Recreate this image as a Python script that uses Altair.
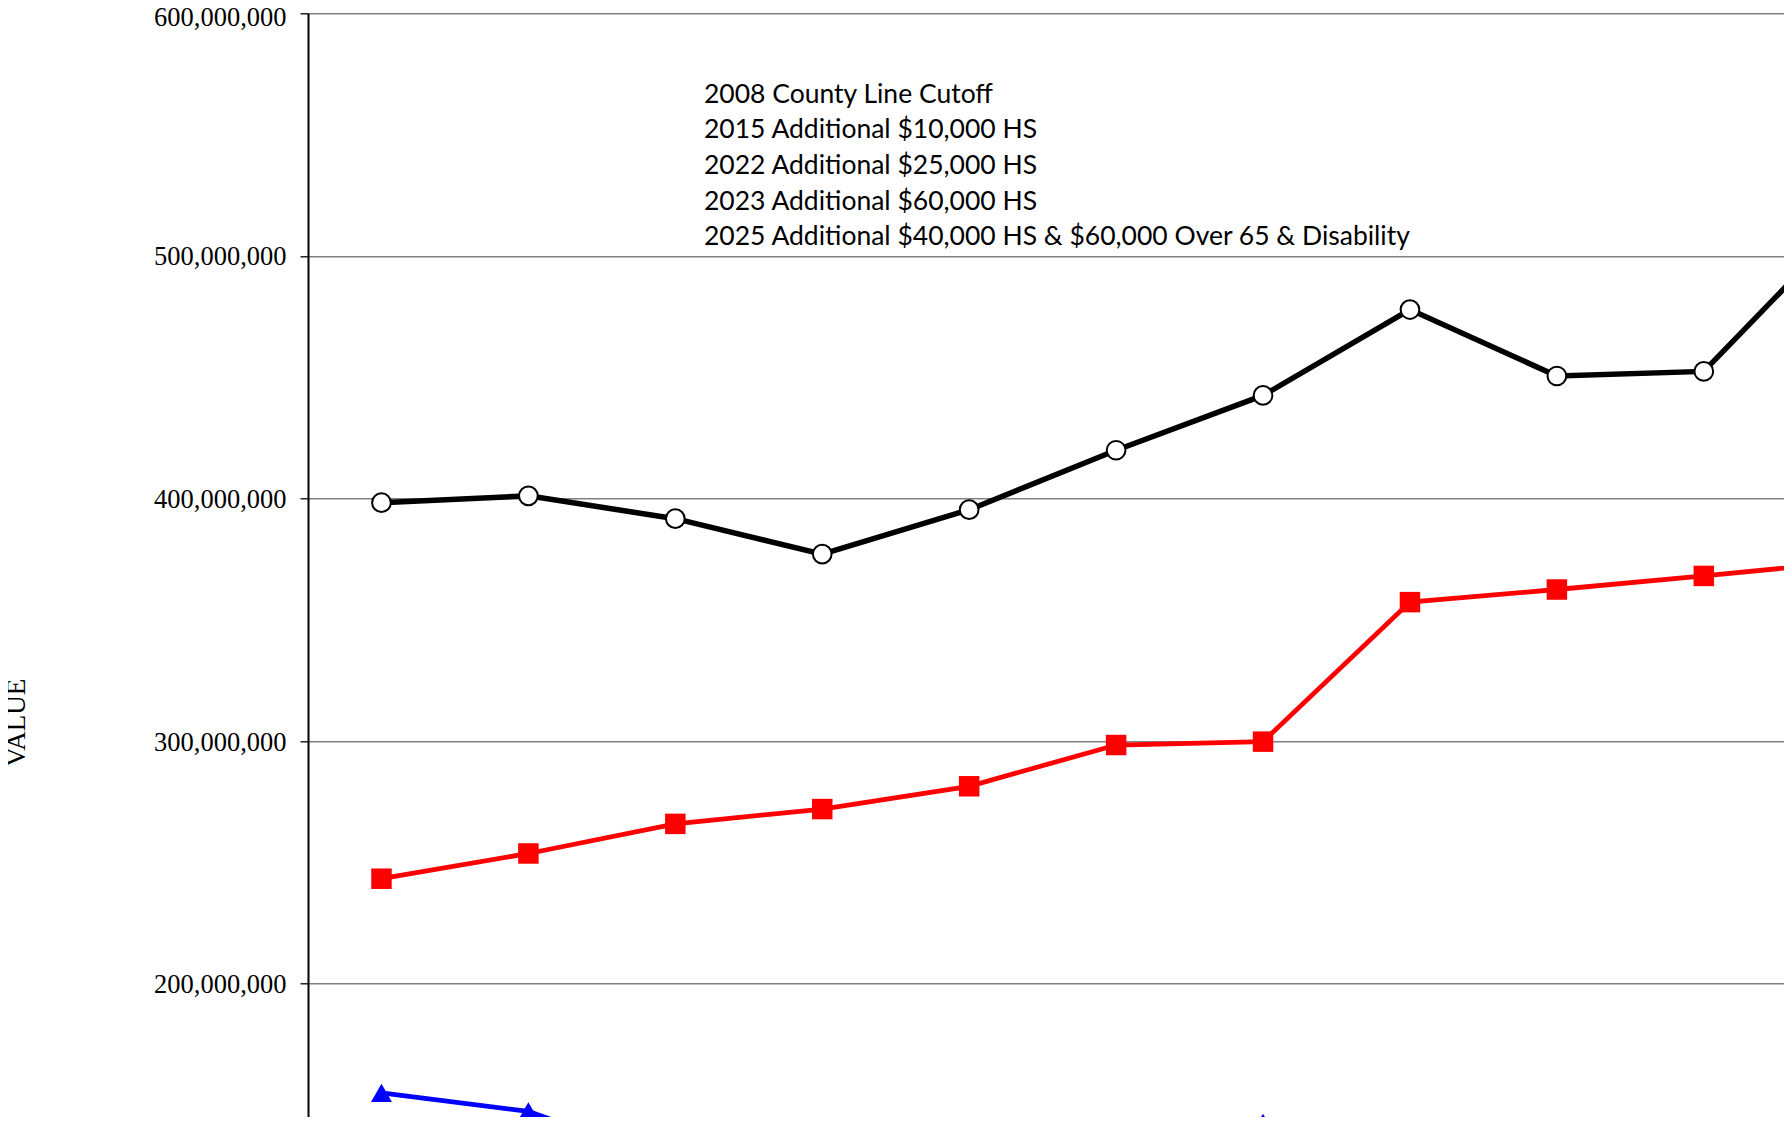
import altair as alt
import pandas as pd

# Categories (years); the right-most one lies beyond the visible frame
years = ["2015", "2016", "2017", "2018", "2019", "2020", "2021", "2022", "2023", "2024", "2025"]

# Series values
total_value = [398.3e6, 401.1e6, 391.7e6, 377.1e6, 395.4e6, 419.9e6, 442.5e6, 477.9e6, 450.5e6, 452.4e6, 515.0e6]
exempt_value = [243.3e6, 253.7e6, 265.9e6, 272.0e6, 281.4e6, 298.4e6, 299.8e6, 357.3e6, 362.5e6, 368.1e6, 374.0e6]
taxable_value = [155.0e6, 147.4e6, 125.8e6, 105.1e6, 114.0e6, 121.5e6, 142.7e6, 120.6e6, 88.0e6, 84.3e6, 141.0e6]

series_names = ["Total", "Exempt", "Taxable"]
series_colors = ["#000000", "#ff0000", "#0000ff"]
series_widths = [5.5, 4.8, 4.8]

y_ticks = [0, 100e6, 200e6, 300e6, 400e6, 500e6, 600e6]

notes = [
    "2008 County Line Cutoff",
    "2015 Additional $10,000 HS",
    "2022 Additional $25,000 HS",
    "2023 Additional $60,000 HS",
    "2025 Additional $40,000 HS & $60,000 Over 65 & Disability",
]

rows = []
for name, vals in zip(series_names, [total_value, exempt_value, taxable_value]):
    for yr, v in zip(years, vals):
        rows.append({"year": yr, "series": name, "value": v})
df = pd.DataFrame(rows)

# The full chart is larger than the window: the scales run past the visible frame
x_enc = alt.X(
    "year:O",
    sort=years,
    scale=alt.Scale(type="point", padding=0.5, range=[0, 1616.2]),
    axis=None,
)
y_enc = alt.Y(
    "value:Q",
    scale=alt.Scale(domain=[0, 600e6], nice=False, range=[1455.7, 0]),
    axis=alt.Axis(
        title="VALUE",
        values=y_ticks,
        format=",d",
        labelFont="Liberation Serif",
        labelFontSize=26.5,
        labelColor="#000000",
        labelPadding=14,
        labelOffset={"condition": {"test": "datum.value >= 600000000", "value": 4.5}, "value": 1},
        tickSize=8,
        tickColor="#000000",
        tickWidth=1.3,
        domainColor="#000000",
        domainWidth=2,
        grid=True,
        gridColor="#808080",
        gridWidth=1.4,
        titleFont="Liberation Serif",
        titleFontSize=27,
        titleFontWeight="normal",
        titleColor="#000000",
        titleAngle=-90,
        titleX=-292,
        titleY=709,
        titleAlign="center",
        titleBaseline="middle",
    ),
)

base = alt.Chart(df)

lines = []
for name, col, w in zip(series_names, series_colors, series_widths):
    lines.append(
        base.transform_filter(alt.datum.series == name)
        .mark_line(strokeWidth=w, color=col)
        .encode(x=x_enc, y=y_enc)
    )

pts_total = base.transform_filter(alt.datum.series == "Total").mark_point(
    shape="circle", filled=True, fill="#ffffff", stroke="#000000", strokeWidth=2, size=350, opacity=1
).encode(x=x_enc, y=y_enc)

pts_exempt = base.transform_filter(alt.datum.series == "Exempt").mark_point(
    shape="square", filled=True, color="#ff0000", size=420, opacity=1
).encode(x=x_enc, y=y_enc)

pts_taxable = base.transform_filter(alt.datum.series == "Taxable").mark_point(
    shape="triangle-up", filled=True, color="#0000ff", size=440, opacity=1
).encode(x=x_enc, y=y_enc)

note_text = alt.Chart(pd.DataFrame({"t": ["\n".join(notes)]})).mark_text(
    align="left", baseline="alphabetic", font="Lato", fontSize=26.5, lineHeight=35.6,
    lineBreak="\n", color="#000000",
).encode(text="t:N", x=alt.value(396), y=alt.value(89.5))

chart = alt.layer(lines[2], lines[1], lines[0], pts_taxable, pts_exempt, pts_total, note_text).properties(
    width=1476,
    height=1103.7,
    autosize=alt.AutoSizeParams(type="none"),
    padding={"left": 300, "top": 5.3, "right": 0, "bottom": 0},
    background="#ffffff",
).configure_view(strokeWidth=0)

chart.save("out.html", embed_options={"renderer": "svg", "actions": False})
